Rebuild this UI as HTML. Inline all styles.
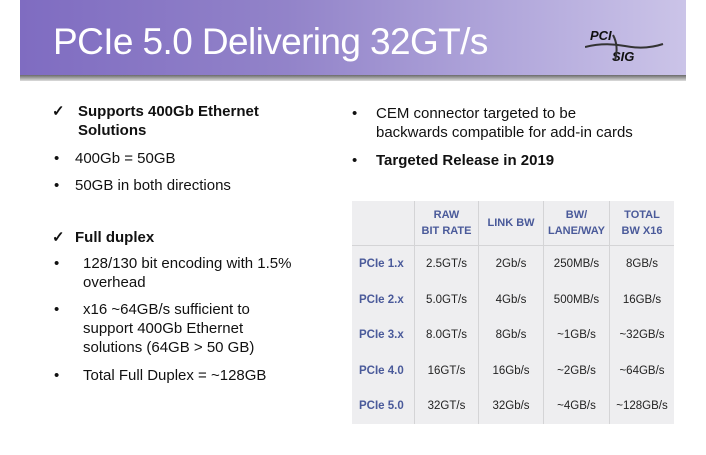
<!DOCTYPE html>
<html><head><style>
body{margin:0;width:706px;height:455px;background:#fff;position:relative;overflow:hidden;font-family:"Liberation Sans",sans-serif;}
.ban{position:absolute;left:20px;top:0;width:666px;height:75px;background:linear-gradient(90deg,#7f6cc1 0%,#9283c9 40%,#b3a9dc 75%,#cbc4e8 100%);}
.sh{position:absolute;left:20px;top:75px;width:666px;height:6px;background:linear-gradient(#6a6a6a,#ddd);}
.title{position:absolute;left:53px;top:21px;font-size:37px;color:#fff;letter-spacing:-0.6px;}
.logo{position:absolute;left:590px;top:28px;font-style:italic;font-weight:bold;font-size:13px;color:#111;}
.t{position:absolute;color:#111;font-size:15px;line-height:19px;}
.b{font-weight:bold;}
table{position:absolute;left:352px;top:201px;width:322px;height:223px;border-collapse:collapse;background:#eeeef0;font-size:11.5px;}
td{text-align:center;border-left:1px solid #d4d4d6;color:#222;padding:0;}
td:first-child{border-left:none;color:#4a5a9a;font-weight:bold;text-align:left;padding-left:7px;}
tr.h td{color:#4a5a9a;font-weight:bold;font-size:11px;line-height:16px;height:44px;border-bottom:1px solid #d4d4d6;}
</style></head><body>
<div class="ban"></div><div class="sh"></div>
<div class="title">PCIe 5.0 Delivering 32GT/s</div>
<div class="logo"><div>PCI</div><div style="margin-left:22px;margin-top:6px;">SIG</div></div>
<svg style="position:absolute;left:585px;top:30px" width="80" height="36"><path d="M0 17 Q20 12 40 16 T78 14" stroke="#333" stroke-width="2" fill="none"/><path d="M28 5 Q34 16 30 30" stroke="#333" stroke-width="2" fill="none"/></svg>
<div class="t b" style="left:52px;top:102px">✓</div>
<div class="t b" style="left:78px;top:102px">Supports 400Gb Ethernet<br>Solutions</div>
<div class="t" style="left:54px;top:149px">•</div><div class="t" style="left:75px;top:149px">400Gb = 50GB</div>
<div class="t" style="left:54px;top:176px">•</div><div class="t" style="left:75px;top:176px">50GB in both directions</div>
<div class="t b" style="left:52px;top:228px">✓</div><div class="t b" style="left:75px;top:228px">Full duplex</div>
<div class="t" style="left:54px;top:254px">•</div><div class="t" style="left:83px;top:254px">128/130 bit encoding with 1.5%<br>overhead</div>
<div class="t" style="left:54px;top:300px">•</div><div class="t" style="left:83px;top:300px">x16 ~64GB/s sufficient to<br>support 400Gb Ethernet<br>solutions (64GB &gt; 50 GB)</div>
<div class="t" style="left:54px;top:366px">•</div><div class="t" style="left:83px;top:366px">Total Full Duplex = ~128GB</div>
<div class="t" style="left:352px;top:104px">•</div><div class="t" style="left:376px;top:104px">CEM connector targeted to be<br>backwards compatible for add-in cards</div>
<div class="t" style="left:352px;top:151px">•</div><div class="t b" style="left:376px;top:151px">Targeted Release in 2019</div>
<table>
<tr class="h"><td style="width:55px"></td><td style="width:63px">RAW<br>BIT RATE</td><td style="width:64px">LINK BW</td><td style="width:65px">BW/<br>LANE/WAY</td><td>TOTAL<br>BW X16</td></tr>
<tr><td>PCIe 1.x</td><td>2.5GT/s</td><td>2Gb/s</td><td>250MB/s</td><td>8GB/s</td></tr>
<tr><td>PCIe 2.x</td><td>5.0GT/s</td><td>4Gb/s</td><td>500MB/s</td><td>16GB/s</td></tr>
<tr><td>PCIe 3.x</td><td>8.0GT/s</td><td>8Gb/s</td><td>~1GB/s</td><td>~32GB/s</td></tr>
<tr><td>PCIe 4.0</td><td>16GT/s</td><td>16Gb/s</td><td>~2GB/s</td><td>~64GB/s</td></tr>
<tr><td>PCIe 5.0</td><td>32GT/s</td><td>32Gb/s</td><td>~4GB/s</td><td>~128GB/s</td></tr>
</table>
</body></html>
